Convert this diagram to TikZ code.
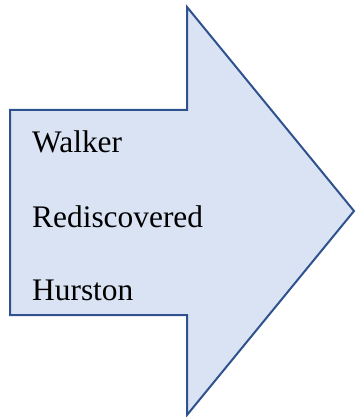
\documentclass[tikz,border=0pt]{standalone}
\usepackage{fontspec}
\setmainfont{Liberation Serif}
\definecolor{arrowfill}{HTML}{DAE3F3}
\definecolor{arrowline}{HTML}{2F528F}
\begin{document}
\begin{tikzpicture}[x=1pt, y=-1pt,
    blockarrow/.style={fill=arrowfill, draw=arrowline, line width=2pt, line join=miter},
    label/.style={anchor=base west, inner sep=0pt, font=\fontsize{31.4pt}{36pt}\selectfont}]
  \useasboundingbox (0,0) rectangle (356,417);
  % right-pointing block arrow
  \draw[blockarrow] (10,110) -- (187,110) -- (187,7) -- (354,211)
      -- (187,415) -- (187,315) -- (10,315) -- cycle;
  \node[label] (walker) at (32,152) {Walker};
  \node[label] (redisc) at (32,227) {Rediscovered};
  \node[label] (hurston) at (32,300) {Hurston};
\end{tikzpicture}
\end{document}
